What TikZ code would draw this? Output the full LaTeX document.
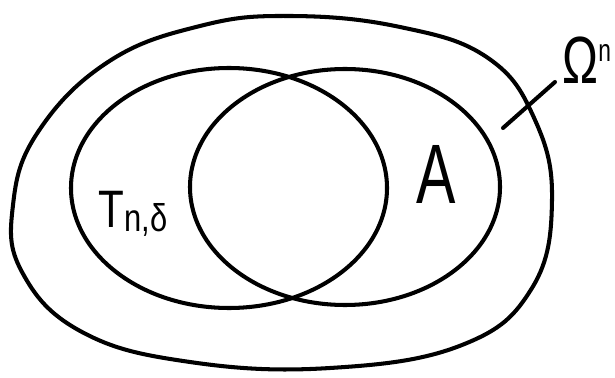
\documentclass[tikz,border=0pt]{standalone}
\usepackage{fontspec}
\setmainfont{Liberation Sans}
\begin{document}
\begin{tikzpicture}[x=0.02cm,y=-0.02cm,
  stroke/.style={line width=2.3pt,line join=round,line cap=round},
  lbl/.style={inner sep=0pt}]
\useasboundingbox (0,0) rectangle (615,378);
% outer region Omega^n
\draw[stroke] plot[smooth cycle,tension=0.7] coordinates {
 (290,16) (400,27) (488,58) (535,120) (552,200) (532,288) (462,345)
 (330,368) (190,362) (82,332) (22,272) (13,205) (38,132) (108,62) (200,26)};
% T_{n,delta}
\draw[stroke] (229,188) ellipse[x radius=158,y radius=120];
% A
\draw[stroke] (345,187) ellipse[x radius=155,y radius=118];
% tick
\coordinate (t1) at (503,128);
\coordinate (t2) at (555,82);
\draw[stroke] (t1) -- (t2);
\node[lbl,anchor=base west] (om) at (562,84) {\scalebox{0.72}[1]{\fontsize{38}{38}\selectfont Ω\raisebox{13pt}{\fontsize{18}{18}\selectfont n}}};
\node[lbl] (tl) at (133,214) {\scalebox{0.8}[1]{\fontsize{30}{30}\selectfont T\raisebox{-2pt}{\fontsize{22}{22}\selectfont n,δ}}};
\node[lbl] (al) at (436,174) {\scalebox{0.7}[1]{\fontsize{48}{48}\selectfont A}};
\end{tikzpicture}
\end{document}
